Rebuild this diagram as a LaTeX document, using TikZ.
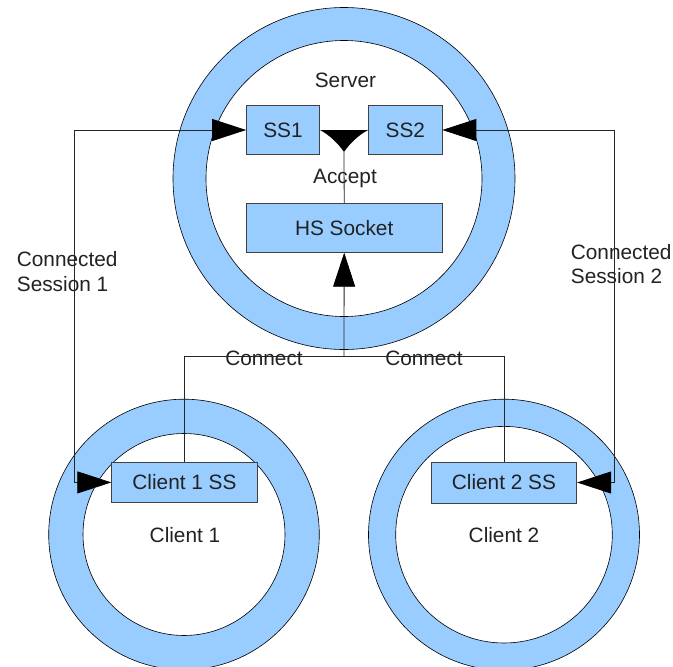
\documentclass[tikz,border=0pt]{standalone}
\usepackage{fontspec}
\setmainfont{Liberation Sans}
\usetikzlibrary{arrows.meta}
\definecolor{ringblue}{HTML}{99CCFF}
\definecolor{txt}{HTML}{222222}
\begin{document}
\begin{tikzpicture}[x=1pt,y=-1pt,
  box/.style={draw=black!75, fill=ringblue, line width=0.8pt, inner sep=0pt, text=txt},
  lbl/.style={text=txt, inner sep=0pt},
  conn/.style={draw=black!85, line width=0.8pt},
  ring/.style={fill=ringblue, even odd rule},
  ringline/.style={draw=black, line width=0.6pt},
  >={Triangle[length=34pt,width=22pt,color=black,fill=black]},
  font=\fontsize{20.8}{24.5}\selectfont]
\clip (0,0) rectangle (673,667);
\fill[white] (0,0) rectangle (673,667);

% rings
\coordinate (sc) at (344,178.5);
\coordinate (c1c) at (184,534.5);
\coordinate (c2c) at (504,534.7);
\fill[ring] (sc) circle[radius=171pt] (sc) circle[radius=138pt];
\draw[ringline] (sc) circle[radius=171pt] (sc) circle[radius=138pt];
\fill[ring] (c1c) circle[radius=135.3pt] (c1c) circle[radius=101pt];
\draw[ringline] (c1c) circle[radius=135.3pt] (c1c) circle[radius=101pt];
\fill[ring] (c2c) circle[radius=135.5pt] (c2c) circle[radius=108.3pt];
\draw[ringline] (c2c) circle[radius=135.5pt] (c2c) circle[radius=108.3pt];

% boxes
\node[box, minimum width=73pt, minimum height=49pt] (ss1) at (283,130) {SS1};
\node[box, minimum width=73.3pt, minimum height=49pt] (ss2) at (405.3,130) {SS2};
\node[box, minimum width=195.7pt, minimum height=49pt] (hs) at (344.2,227.8) {HS Socket};
\node[box, minimum width=145.6pt, minimum height=40.7pt] (c1ss) at (184.5,482.4) {Client 1 SS};
\node[box, minimum width=145.7pt, minimum height=41pt] (c2ss) at (503.9,482.5) {Client 2 SS};

% labels
\node[lbl, anchor=base] (server) at (345.5,87) {Server};
\node[lbl, anchor=base] (accept) at (345,183.3) {Accept};
\node[lbl, anchor=base] (client1) at (185,542.3) {Client 1};
\node[lbl, anchor=base] (client2) at (504,542.3) {Client 2};
\node[lbl, anchor=north west, align=left] (cs1) at (16.7,251.5) {Connected\\Session 1};
\node[lbl, anchor=north west, align=left] (cs2) at (570.7,243.8) {Connected\\Session 2};

% connectors
\coordinate (l1) at (74,130);
\coordinate (r1) at (614.3,130);
\draw[conn,<->] (ss1.west) -- (l1) |- (c1ss.west);
\draw[conn,<->] (ss2.east) -- (r1) |- (c2ss.east);

\coordinate (acc) at (344,152);
\draw[conn] (hs.north) -- (acc);
\fill[black] (ss1.east) .. controls (328,134) and (338,143) .. (acc)
  .. controls (350,143) and (360,134) .. (ss2.west) -- cycle;

\coordinate (j) at (344,356.7);
\draw[conn] (c1ss.north) |- (j) -| (c2ss.north);
\draw[conn,->] (j) -- (hs.south);
\node[lbl, anchor=base] (con1) at (264,365) {Connect};
\node[lbl, anchor=base] (con2) at (424,365) {Connect};
\end{tikzpicture}
\end{document}
